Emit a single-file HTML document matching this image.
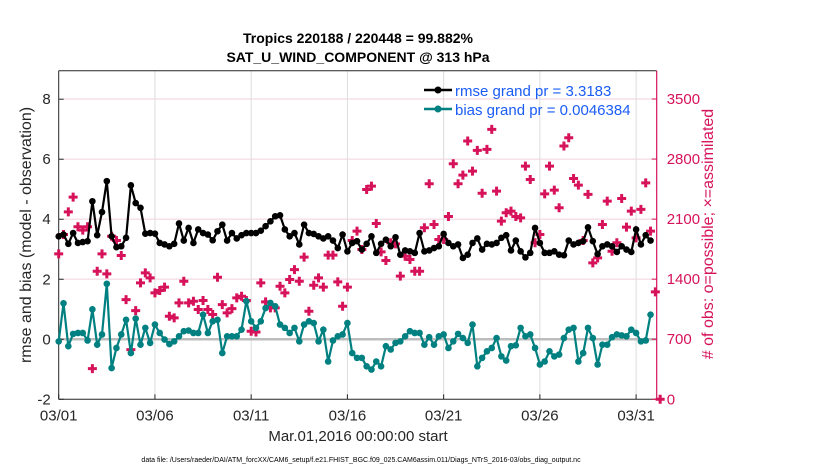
<!DOCTYPE html>
<html><head><meta charset="utf-8"><style>
body{margin:0;background:#fff;}
svg{display:block;font-family:"Liberation Sans",sans-serif;}
</style></head><body>
<svg id="chart" width="830" height="470" viewBox="0 0 830 470">
<text x="358" y="43" text-anchor="middle" font-size="14" font-weight="bold">Tropics 220188 / 220448 = 99.882%</text>
<text x="358" y="62" text-anchor="middle" font-size="14" font-weight="bold">SAT_U_WIND_COMPONENT @ 313 hPa</text>
<g id="grid"></g>
<g id="axes"></g>
<g id="marks"></g>
<text transform="translate(31,235) rotate(-90)" text-anchor="middle" font-size="16" fill="#262626">rmse and bias (model - observation)</text>
<text transform="translate(713,234) rotate(-90)" text-anchor="middle" font-size="16" fill="#d6135a"># of obs: o=possible; ×=assimilated</text>
<text x="358" y="441" text-anchor="middle" font-size="15" fill="#262626">Mar.01,2016 00:00:00 start</text>
<text x="361" y="462" text-anchor="middle" font-size="7" fill="#000">data file: /Users/raeder/DAI/ATM_forcXX/CAM6_setup/f.e21.FHIST_BGC.f09_025.CAM6assim.011/Diags_NTrS_2016-03/obs_diag_output.nc</text>
<g>
<line x1="424" y1="90" x2="452" y2="90" stroke="#000" stroke-width="2.5"/><circle cx="438" cy="90" r="3.5" fill="#000"/>
<text x="455" y="96" font-size="15" fill="#1a5cf5">rmse grand pr = 3.3183</text>
<line x1="424" y1="109" x2="452" y2="109" stroke="#008080" stroke-width="2.5"/><circle cx="438" cy="109" r="3.5" fill="#008080"/>
<text x="455" y="115" font-size="15" fill="#1a5cf5">bias grand pr = 0.0046384</text>
</g>
</svg>
<script>
const dayTicks = [0,5,10,15,20,25,30];
const dayLabels = ["03/01","03/06","03/11","03/16","03/21","03/26","03/31"];
const leftTicks = [-2,0,2,4,6,8];
const rightTicks = [0,700,1400,2100,2800,3500];
const stepDays = 0.25;
const rmse = [3.43,3.49,3.18,3.54,3.21,3.24,3.27,4.6,3.47,4.24,5.27,3.43,3.07,3.1,3.38,5.13,4.54,4.38,3.52,3.54,3.52,3.21,3.16,3.1,3.18,3.86,3.29,3.71,3.21,3.66,3.54,3.49,3.3,3.6,3.82,3.29,3.54,3.36,3.47,3.54,3.54,
3.54,3.62,3.77,3.93,4.1,4.13,3.66,3.43,3.54,3.16,3.82,3.54,3.51,3.43,3.36,3.43,3.29,3.04,3.49,2.93,3.21,3.27,2.99,3.18,3.43,2.88,3.18,3.32,3.1,3.4,2.82,2.96,2.93,2.88,3.54,2.93,2.96,3.04,3.1,
3.51,3.21,3.1,3.16,2.71,2.82,3.21,3.36,2.99,3.18,3.16,3.21,3.38,3.47,2.96,3.29,2.93,2.73,2.88,3.71,3.21,2.88,2.88,2.93,2.82,2.8,3.29,3.16,3.21,3.27,3.73,3.27,2.84,3.1,3.16,3.1,2.91,3.1,2.99,2.91,3.66,3.16,3.47,3.29];
const bias = [-0.07,1.2,-0.23,0.18,0.21,0.21,-0.04,1.0,-0.18,0.16,1.85,-0.96,-0.29,0.16,0.65,-0.46,0.69,-0.18,0.38,-0.12,0.49,0.21,-0.01,-0.16,-0.07,0.1,0.27,0.29,0.21,0.21,0.82,0.21,0.6,0.65,-0.46,0.1,0.1,0.1,0.32,1.27,0.6,
0.38,0.6,1.04,1.21,1.1,0.49,0.38,0.21,0.38,-0.07,0.49,0.6,0.54,-0.07,0.32,-0.74,-0.04,0.1,0.16,0.54,-0.46,-0.62,-0.62,-0.9,-1.01,-0.74,-0.9,-0.23,-0.34,-0.12,-0.07,0.1,0.27,0.21,0.21,-0.18,0.07,-0.18,0.1,
0.16,-0.29,-0.07,0.18,0.04,-0.12,0.49,-0.9,-0.62,-0.4,-0.29,0.04,-0.57,-0.71,-0.23,-0.2,0.38,0.1,0.16,-0.29,-0.84,-0.74,-0.4,-0.57,-0.51,0.04,0.32,0.38,-0.74,-0.46,0.38,0.04,-0.84,-0.18,-0.18,0.07,0.16,0.13,0.1,0.32,0.21,-0.07,-0.04,0.82];
const obsCount = [1695,1921,2185,2356,2011,1972,2011,358,1493,1695,1462,1901,1851,1676,1162,579,1034,1357,1474,1415,1240,1268,1307,968,949,1124,1376,1124,1143,1046,1151,1046,988,1423,1104,1007,1057,1182,1201,1151,793,
785,1357,1135,1065,1065,1318,1240,1396,1512,1376,1657,1026,1330,1415,1307,1680,1680,1369,1085,1307,1851,1960,1746,2445,2484,2049,1719,1618,1824,1812,1435,1668,1629,1493,1493,1999,2512,2038,1863,
1863,2131,2745,2512,2613,3010,2660,2901,2401,2913,3146,2426,2077,2174,2193,2131,2115,2718,2562,1824,1921,2395,2718,2438,2232,2952,3049,2574,2496,1851,2388,1590,1649,2038,2310,1726,1824,2341,2007,2193,1882,2213,2523,1960,1252,0];

const L=58.7,R=656.7,T=70.7,B=399.3;
const xMin=0,xMax=31.07,yMin=-2,yMax=8.95,y2Min=0,y2Max=3830;
const X=d=>L+(d-xMin)/(xMax-xMin)*(R-L);
const Y=v=>B-(v-yMin)/(yMax-yMin)*(B-T);
const Y2=v=>B-(v-y2Min)/(y2Max-y2Min)*(B-T);
const NS="http://www.w3.org/2000/svg";
function mk(tag,attrs,parent){const e=document.createElementNS(NS,tag);for(const k in attrs)e.setAttribute(k,attrs[k]);parent.appendChild(e);return e;}
const grid=document.getElementById('grid'),axes=document.getElementById('axes'),marks=document.getElementById('marks');
mk('rect',{x:L,y:T,width:R-L,height:B-T,fill:'#fff'},grid);
rightTicks.forEach(v=>{if(v>0){const l=mk('line',{x1:L,x2:R,y1:Y2(v),y2:Y2(v),stroke:'#f0d2dc','stroke-width':1},grid);

}});
dayTicks.forEach(d=>{if(d>0){const l=mk('line',{x1:X(d),x2:X(d),y1:T,y2:B,stroke:'#dcdcdc','stroke-width':1},grid);

}});
const zl=mk('line',{x1:L,x2:R,y1:Y(0),y2:Y(0),stroke:'#bdbdbd','stroke-width':2.5},grid);


mk('line',{x1:L,x2:R,y1:T,y2:T,stroke:'#262626','stroke-width':1},axes);
mk('line',{x1:L,x2:R,y1:B,y2:B,stroke:'#262626','stroke-width':1},axes);
mk('line',{x1:L,x2:L,y1:T,y2:B,stroke:'#262626','stroke-width':1},axes);
mk('line',{x1:R,x2:R,y1:T,y2:B,stroke:'#d6135a','stroke-width':1.2},axes);
leftTicks.forEach(v=>{mk('line',{x1:L,x2:L+5,y1:Y(v),y2:Y(v),stroke:'#262626'},axes);
const t=mk('text',{x:L-8,y:Y(v)+5,'text-anchor':'end','font-size':15,fill:'#262626'},axes);t.textContent=v;

});
rightTicks.forEach(v=>{mk('line',{x1:R-5,x2:R,y1:Y2(v),y2:Y2(v),stroke:'#d6135a'},axes);
const t=mk('text',{x:R+10,y:Y2(v)+5,'font-size':15,fill:'#d6135a'},axes);t.textContent=v;

});
dayTicks.forEach((d,i)=>{mk('line',{x1:X(d),x2:X(d),y1:B-5,y2:B,stroke:'#262626'},axes);
const t=mk('text',{x:X(d),y:B+21,'text-anchor':'middle','font-size':15,fill:'#262626'},axes);t.textContent=dayLabels[i];

});
obsCount.forEach((v,i)=>{const x=X(i*stepDays),y=Y2(v);
const p=mk('path',{d:`M${x-4.5},${y-1.5}h3v-3h3v3h3v3h-3v3h-3v-3h-3z`,fill:'#d6135a'},marks);

});
function series(arr,color,name){
const pts=arr.map((v,i)=>X(i*stepDays).toFixed(1)+','+Y(v).toFixed(1)).join(' ');
const pl=mk('polyline',{points:pts,fill:'none',stroke:color,'stroke-width':2.2},marks);


arr.forEach((v,i)=>{const c=mk('circle',{cx:X(i*stepDays),cy:Y(v),r:3.3,fill:color},marks);

});}
series(bias,'#008080','bias');
series(rmse,'#000000','rmse');
</script>
</body></html>
